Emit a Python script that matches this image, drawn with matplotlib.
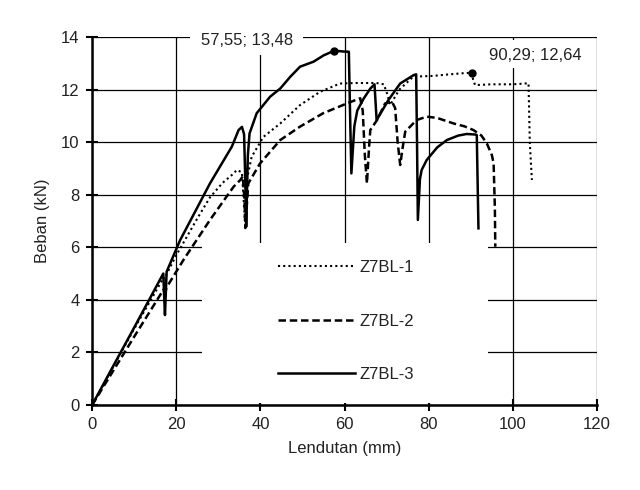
"""Load-deflection curves for Z7BL specimens."""

import matplotlib
matplotlib.use("Agg")
import matplotlib.pyplot as plt
from matplotlib.patches import Rectangle

# Z7BL-1 (dotted)
x1 = [0, 5, 10, 17, 17.3, 17.6, 20, 25, 28, 31, 33.2, 34.4, 35.6, 36.0, 36.3,
      36.8, 37.9, 40.7, 44.7, 49.4, 54.2, 58.9, 63, 67.5, 69.3, 70.2, 70.8,
      73.0, 76.3, 81, 85, 88, 90.29, 90.5, 91.0, 95, 100, 103.7, 104.0, 104.5]
y1 = [0, 1.45, 2.9, 4.85, 4.5, 4.95, 5.7, 7.1, 7.9, 8.45, 8.75, 8.94, 8.85, 7.8, 7.0,
      8.6, 9.44, 10.2, 10.71, 11.41, 11.92, 12.23, 12.25, 12.25, 12.2, 11.8, 11.41,
      12.0, 12.49, 12.52, 12.58, 12.62, 12.64, 12.4, 12.17, 12.2, 12.2, 12.24, 10.0, 8.56]

# Z7BL-2 (dashed)
x2 = [0, 5, 10, 17, 17.3, 17.6, 21.7, 28, 33.6, 35.2, 35.8, 36.2, 36.4, 37.1, 39.9,
      44.7, 49.4, 54.9, 60.5, 63.7, 64.3, 64.8, 65.3, 65.8, 66.1, 67.7, 69.6, 71.2,
      72.0, 72.6, 73.2, 73.8, 74.4, 77.1, 79.5, 82, 85.9, 88.5, 90.6, 92.5, 93.8,
      95.0, 95.4, 95.7, 95.8]
y2 = [0, 1.3, 2.6, 4.4, 4.1, 4.45, 5.52, 7.04, 8.3, 8.56, 8.7, 7.8, 6.73, 8.43, 9.19,
      10.08, 10.59, 11.1, 11.47, 11.67, 11.2, 9.5, 8.43, 9.8, 10.46, 10.84, 11.47, 11.55,
      11.3, 10.0, 9.13, 9.8, 10.4, 10.84, 10.97, 10.92, 10.71, 10.6, 10.46, 10.25, 9.95,
      9.5, 9.19, 7.5, 6.02]

# Z7BL-3 (solid)
x3 = [0, 5, 10, 16.9, 17.1, 17.3, 17.7, 20.9, 28.0, 33.2, 34.8, 35.6, 36.1, 36.4,
      36.6, 37.0, 37.4, 39.1, 42.3, 44.7, 47.1, 49.4, 52.6, 55, 57.55, 59.5, 61.0,
      61.3, 61.6, 62.3, 63.0, 64.5, 66.1, 67.1, 67.6, 70.4, 73.2, 76.4, 77.0, 77.2,
      77.4, 77.9, 78.3, 79.5, 82, 84.3, 87, 89.0, 91.0, 91.4, 91.8]
y3 = [0, 1.48, 2.95, 5.0, 4.2, 3.42, 5.07, 6.27, 8.43, 9.83, 10.46, 10.58, 10.3, 8.5,
      6.78, 9.5, 10.33, 11.1, 11.73, 12.04, 12.49, 12.87, 13.06, 13.3, 13.48, 13.45, 13.44,
      11.0, 8.81, 10.6, 11.2, 11.65, 12.04, 12.2, 10.84, 11.6, 12.23, 12.55, 12.58, 10.0,
      7.04, 8.6, 8.94, 9.32, 9.8, 10.08, 10.25, 10.31, 10.29, 10.27, 6.72]

# peak markers
peak_x = [57.55, 90.29]
peak_y = [13.48, 12.64]
peak_labels = ["57,55; 13,48", "90,29; 12,64"]

TXT = "#222222"


def main() -> None:
    plt.rcParams["font.family"] = ["Liberation Sans", "DejaVu Sans"]
    fig = plt.figure(figsize=(6.4, 4.9), dpi=100, facecolor="white")
    ax = fig.add_axes([0.144, 0.1735, 0.789, 0.751])

    ax.plot(x1, y1, color="black", linestyle=(0, (1, 1.5)), linewidth=1.5, label="Z7BL-1", zorder=3)
    ax.plot(x2, y2, color="black", linestyle=(0, (3.0, 1.5)), linewidth=1.8, label="Z7BL-2", zorder=3)
    ax.plot(x3, y3, color="black", linestyle="-", linewidth=1.8, label="Z7BL-3", zorder=3)
    ax.plot(peak_x, peak_y, "o", color="black", markersize=5, zorder=4)

    ax.set_xlim(0, 120)
    ax.set_ylim(0, 14)
    ax.set_xticks(range(0, 121, 20))
    ax.set_yticks(range(0, 15, 2))
    ax.set_axisbelow(True)
    ax.grid(True, color="black", linewidth=0.9)

    # white panels that mask the grid behind the legend and labels
    ax.add_patch(Rectangle((26.1, 0.08), 67.9, 6.08, facecolor="white", edgecolor="none", zorder=1))
    ax.add_patch(Rectangle((23.3, 13.3), 26.8, 1.0, facecolor="white", edgecolor="none",
                           zorder=1, clip_on=False))
    ax.add_patch(Rectangle((93.0, 12.82), 25.0, 1.06, facecolor="white", edgecolor="none", zorder=1))

    ax.text(36.7, 13.86, peak_labels[0], fontsize=12, color=TXT, ha="center", va="center", zorder=5)
    ax.text(105.3, 13.3, peak_labels[1], fontsize=12, color=TXT, ha="center", va="center", zorder=5)

    for side in ("top", "right"):
        ax.spines[side].set_visible(False)
    for side in ("left", "bottom"):
        ax.spines[side].set_linewidth(1.8)
        ax.spines[side].set_zorder(5)

    ax.tick_params(direction="inout", length=8, width=1.5, labelsize=12, labelcolor=TXT, pad=5)
    ax.set_xlabel("Lendutan (mm)", fontsize=12, color=TXT, labelpad=6)
    ax.set_ylabel("Beban (kN)", fontsize=12, color=TXT, labelpad=8)

    ax.legend(loc="center left", bbox_to_anchor=(0.368, 0.228), frameon=False,
              fontsize=12, handlelength=4.6, handletextpad=0.3, labelspacing=2.3,
              borderpad=0, borderaxespad=0, labelcolor=TXT)

    fig.savefig("out.png", dpi=100, facecolor="white")
    plt.close(fig)


if __name__ == "__main__":
    main()
